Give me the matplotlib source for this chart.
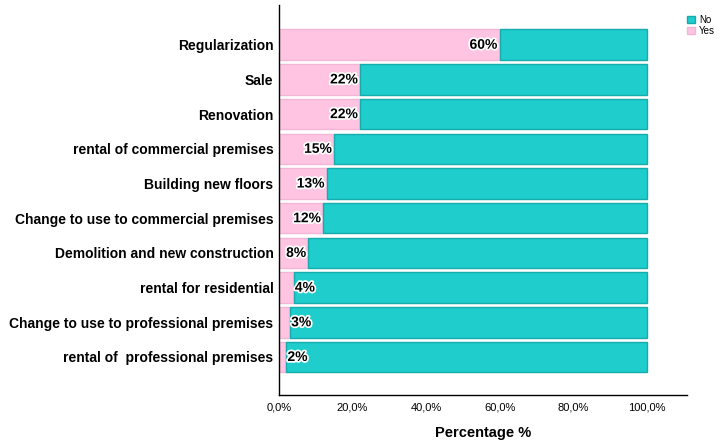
import matplotlib.pyplot as plt
import matplotlib.patheffects as pe
from matplotlib.ticker import FuncFormatter

plt.rcParams['font.family'] = ['Liberation Sans', 'DejaVu Sans']

# Yes share per item (percent), No is the remainder
items = ['Regularization', 'Sale', 'Renovation', 'rental of commercial premises',
         'Building new floors', 'Change to use to commercial premises',
         'Demolition and new construction', 'rental for residential',
         'Change to use to professional premises', 'rental of  professional premises']
yes_pct = [60, 22, 22, 15, 13, 12, 8, 4, 3, 2]
no_pct = [100 - v for v in yes_pct]

col_yes = '#FEC4E1'
col_no = '#1FCDCD'

fig = plt.figure(figsize=(7.21, 4.41), dpi=100)
ax = fig.add_axes([0.387, 0.104, 0.566, 0.885])

pos = list(range(len(items)))
ax.barh(pos, yes_pct, height=0.88, color=col_yes, edgecolor='#f4b6d6', linewidth=1, label='Yes')
ax.barh(pos, no_pct, left=yes_pct, height=0.88, color=col_no, edgecolor='#17abab',
        linewidth=1, label='No')

halo = [pe.withStroke(linewidth=2.5, foreground='white')]
for i, v in enumerate(yes_pct):
    if v >= 8:
        ax.text(v - 0.6, i, f'{v}%', ha='right', va='center', fontsize=10,
                fontweight='bold', path_effects=halo)
    else:
        ax.text(v + 0.3, i, f'{v}%', ha='left', va='center', fontsize=10,
                fontweight='bold', path_effects=halo)

ax.set_xlim(0, 111)
ax.set_ylim(10.1, -1.15)
ax.set_yticks(pos)
ax.set_yticklabels(items, fontsize=10, fontweight='bold')
ax.set_xticks([0, 20, 40, 60, 80, 100])
ax.xaxis.set_major_formatter(FuncFormatter(lambda x, p: f'{x:.1f}%'.replace('.', ',')))
ax.tick_params(axis='x', labelsize=8, length=0, pad=5)
ax.tick_params(axis='y', length=0, pad=4)
ax.set_xlabel('Percentage %', fontsize=10.5, fontweight='bold', labelpad=10)

for s in ['top', 'right']:
    ax.spines[s].set_visible(False)
for s in ['left', 'bottom']:
    ax.spines[s].set_linewidth(1)

h, l = ax.get_legend_handles_labels()
fig.legend(h[::-1], l[::-1], loc='upper left', bbox_to_anchor=(0.948, 0.975), frameon=False,
           fontsize=7, handlelength=0.8, handleheight=0.8, handletextpad=0.4,
           labelspacing=0.1, borderaxespad=0)

fig.savefig('out.png', dpi=100)
